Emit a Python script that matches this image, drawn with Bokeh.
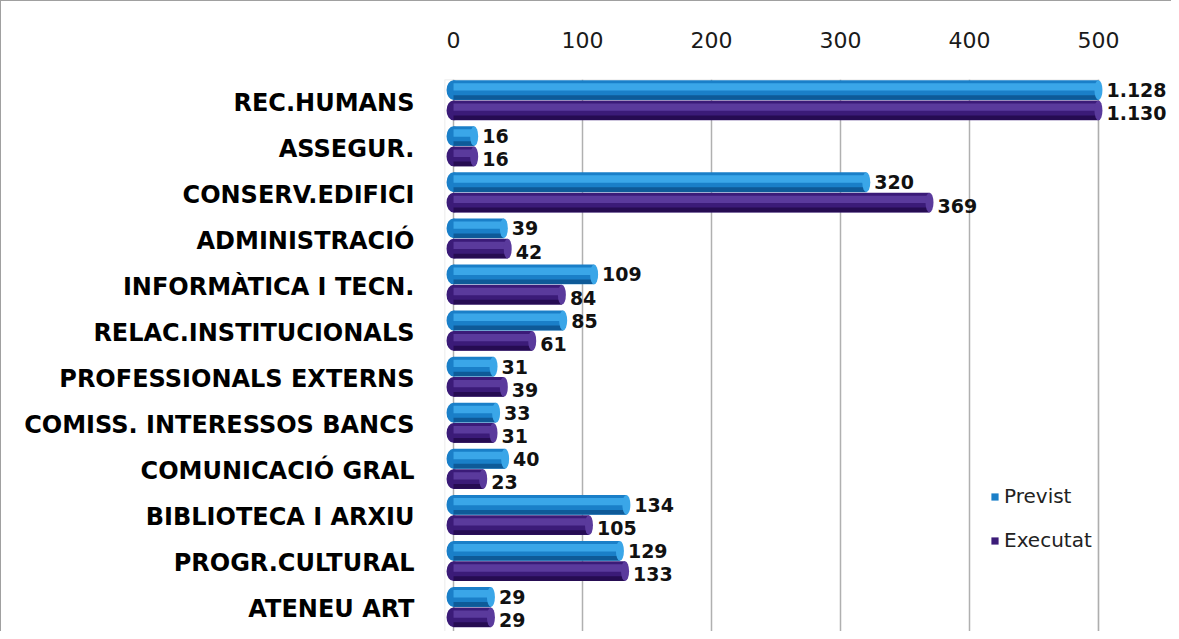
import numpy as np
from bokeh.plotting import figure
from bokeh.models import (ColumnDataSource, FactorRange, Range1d, FixedTicker,
                          BoxAnnotation, Legend, LegendItem)
from bokeh.transform import dodge
from bokeh.core.properties import value
from bokeh.embed import file_html
from bokeh.resources import INLINE

# ---- data ----
categories = ["REC.HUMANS", "ASSEGUR.", "CONSERV.EDIFICI", "ADMINISTRACIÓ",
              "INFORMÀTICA I TECN.", "RELAC.INSTITUCIONALS", "PROFESSIONALS EXTERNS",
              "COMISS. INTERESSOS BANCS", "COMUNICACIÓ GRAL", "BIBLIOTECA I ARXIU",
              "PROGR.CULTURAL", "ATENEU ART"]
previst = [1128, 16, 320, 39, 109, 85, 31, 33, 40, 134, 129, 29]
executat = [1130, 16, 369, 42, 84, 61, 39, 31, 23, 105, 133, 29]
x_ticks = [0, 100, 200, 300, 400, 500]
series_names = ["Previst", "Executat"]

AXIS_MAX = x_ticks[-1]


def fmt(v):
    return f"{v:,}".replace(",", ".")


src = ColumnDataSource(dict(
    cat=categories,
    previst=previst,
    executat=executat,
    previst_bar=np.minimum(previst, AXIS_MAX),
    executat_bar=np.minimum(executat, AXIS_MAX),
    previst_lbl=[fmt(v) for v in previst],
    executat_lbl=[fmt(v) for v in executat],
    zero=[0] * len(categories),
))

FONT = value("DejaVu Sans")

p = figure(
    width=1171, height=631,
    y_range=FactorRange(factors=list(reversed(categories))),
    x_range=Range1d(-7, 557.4),
    x_axis_location="above",
    output_backend="svg", toolbar_location=None,
    min_border_left=443, min_border_right=0, min_border_top=78, min_border_bottom=0,
)
p.styles = {"border-top": "1px solid #a0a0a0", "border-left": "1px solid #a0a0a0"}
p.outline_line_color = None
p.background_fill_color = "white"
p.border_fill_color = "white"

# back wall box
wall = BoxAnnotation(left=-7, right=AXIS_MAX, fill_alpha=0, line_color="#a8a8a8",
                     line_width=1.5, level="underlay")
p.add_layout(wall)

# grid
p.xgrid.ticker = FixedTicker(ticks=x_ticks)
p.xgrid.grid_line_color = "#b0b0b0"
p.xgrid.grid_line_width = 1.5
p.ygrid.grid_line_color = None

# top axis
p.xaxis.ticker = FixedTicker(ticks=x_ticks)
p.xaxis.axis_line_color = None
p.xaxis.major_tick_line_color = None
p.xaxis.minor_tick_line_color = None
p.xaxis.major_label_text_font = "DejaVu Sans"
p.xaxis.major_label_text_font_size = "22px"
p.xaxis.major_label_text_color = "#1a1a1a"
p.xaxis.major_label_standoff = 26

# left axis
p.yaxis.axis_line_color = None
p.yaxis.major_tick_line_color = None
p.yaxis.major_label_text_font = "DejaVu Sans"
p.yaxis.major_label_text_font_style = "bold"
p.yaxis.major_label_text_font_size = "24px"
p.yaxis.major_label_text_color = "#000000"
p.yaxis.major_label_standoff = 24

H = 0.43
SHIFT = 0.05
styles = {
    "Previst": dict(d=0.22 + SHIFT, mid="#1a7fc8", light="#3aa6e8", dark="#0e5a98",
                    right="previst_bar", lbl="previst_lbl", yoff=0),
    "Executat": dict(d=-0.22 + SHIFT, mid="#3b1b78", light="#5a3a9c", dark="#260c52",
                     right="executat_bar", lbl="executat_lbl", yoff=3),
}

legend_items = []
for name in series_names:
    s = styles[name]
    yy = dodge("cat", s["d"], range=p.y_range)
    # rounded (cylinder-like) left cap
    p.ellipse(x="zero", y=yy, width=14, width_units="screen", height=H,
              source=src, fill_color=s["mid"], line_color=None)
    base = p.hbar(y=yy, left=0, right=s["right"],
                  height=H, source=src, fill_color=s["mid"], line_color=None)
    p.hbar(y=dodge("cat", s["d"] + 0.07, range=p.y_range), left=0, right=s["right"],
           height=0.16, source=src, fill_color=s["light"], line_color=None)
    p.hbar(y=dodge("cat", s["d"] - 0.16, range=p.y_range), left=0, right=s["right"],
           height=0.1, source=src, fill_color=s["dark"], line_color=None)
    # rounded right cap
    p.ellipse(x=s["right"], y=yy, width=8, width_units="screen", height=H,
              source=src, fill_color=s["light"], line_color=None)
    p.text(x=s["right"], y=yy, text=s["lbl"],
           source=src, x_offset=8, y_offset=s["yoff"], text_baseline="middle",
           text_align="left", text_font=FONT, text_font_style="bold",
           text_font_size="19px", text_color="#111111")
    legend_items.append(LegendItem(label=name, renderers=[base]))

legend = Legend(items=legend_items, location=(546, 80), orientation="vertical",
                background_fill_alpha=0, border_line_color=None,
                label_text_font="DejaVu Sans", label_text_font_size="20px",
                label_text_color="#222222", glyph_width=9, glyph_height=9,
                label_standoff=5, spacing=20, padding=0, margin=0)
p.add_layout(legend)

open("out.html", "w").write(file_html(p, INLINE))
